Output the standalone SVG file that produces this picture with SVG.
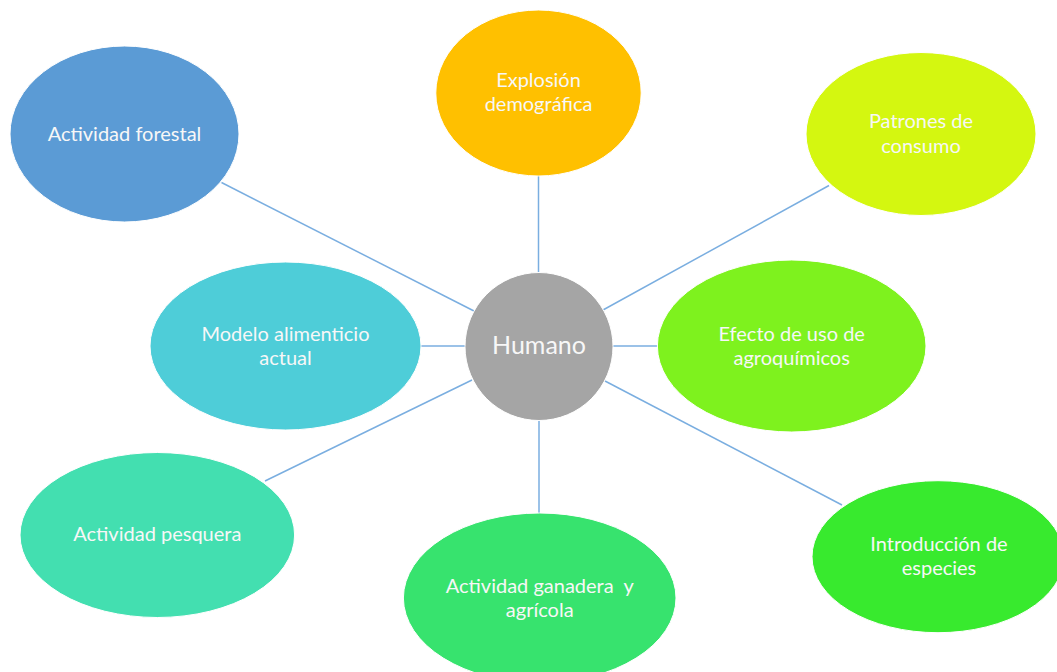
<svg xmlns="http://www.w3.org/2000/svg" width="1057" height="672" viewBox="0 0 1057 672">
<style>
.lbl{font-family:Lato,"Open Sans","Liberation Sans",sans-serif;font-size:20px;fill:#f7f7f7;text-anchor:middle}
.big{font-size:25px}
.pre{white-space:pre}
.node{stroke:#ffffff;stroke-width:1}
.conn line{stroke:#7aaee0;stroke-width:1.5}
</style>
<rect width="1057" height="672" fill="#ffffff"/>
<g class="conn" id="connectors">
<line x1="221.5" y1="182.5" x2="474" y2="311"/>
<line x1="538.5" y1="176" x2="538.5" y2="273"/>
<line x1="829" y1="185.5" x2="603" y2="310"/>
<line x1="421" y1="346" x2="465" y2="346"/>
<line x1="613" y1="346" x2="657.5" y2="346"/>
<line x1="265" y1="481" x2="472" y2="380"/>
<line x1="539" y1="420" x2="539" y2="513.5"/>
<line x1="842" y1="505" x2="605" y2="381"/>
</g>
<g id="n-forestal"><ellipse class="node" cx="124.5" cy="134" rx="114.5" ry="88" fill="#5b9bd5"/><text class="lbl" x="124.5" y="141">Actividad forestal</text></g>
<g id="n-explosion"><ellipse class="node" cx="538.5" cy="93" rx="102.7" ry="83" fill="#ffc000"/><text class="lbl" x="538.5" y="87">Explosión</text><text class="lbl" x="538.5" y="111">demográfica</text></g>
<g id="n-patrones"><ellipse class="node" cx="921" cy="134" rx="115" ry="81.5" fill="#d4f710"/><text class="lbl" x="921" y="128">Patrones de</text><text class="lbl" x="921" y="152.5">consumo</text></g>
<g id="n-modelo"><ellipse class="node" cx="285.5" cy="346" rx="135.5" ry="84" fill="#4ecdd8"/><text class="lbl" x="285.5" y="340.5">Modelo alimenticio</text><text class="lbl" x="285.5" y="364.5">actual</text></g>
<g id="n-humano"><circle class="node" cx="539" cy="346.5" r="74" fill="#a5a5a5"/><text class="lbl big" x="539" y="354">Humano</text></g>
<g id="n-efecto"><ellipse class="node" cx="791.7" cy="346" rx="134.3" ry="86" fill="#7ef21e"/><text class="lbl" x="791.7" y="340.5">Efecto de uso de</text><text class="lbl" x="791.7" y="365">agroquímicos</text></g>
<g id="n-pesquera"><ellipse class="node" cx="157.3" cy="535" rx="137.3" ry="82.5" fill="#43dfb0"/><text class="lbl" x="157.3" y="541">Actividad pesquera</text></g>
<g id="n-ganadera"><ellipse class="node" cx="539.7" cy="598" rx="136.3" ry="85" fill="#37e36e"/><text class="lbl pre" x="539.7" y="593">Actividad ganadera  y</text><text class="lbl" x="539.7" y="617">agrícola</text></g>
<g id="n-introduccion"><ellipse class="node" cx="938" cy="556.7" rx="126" ry="76" fill="#38ea2e"/><text class="lbl" x="939" y="551">Introducción de</text><text class="lbl" x="939" y="575">especies</text></g>
</svg>
